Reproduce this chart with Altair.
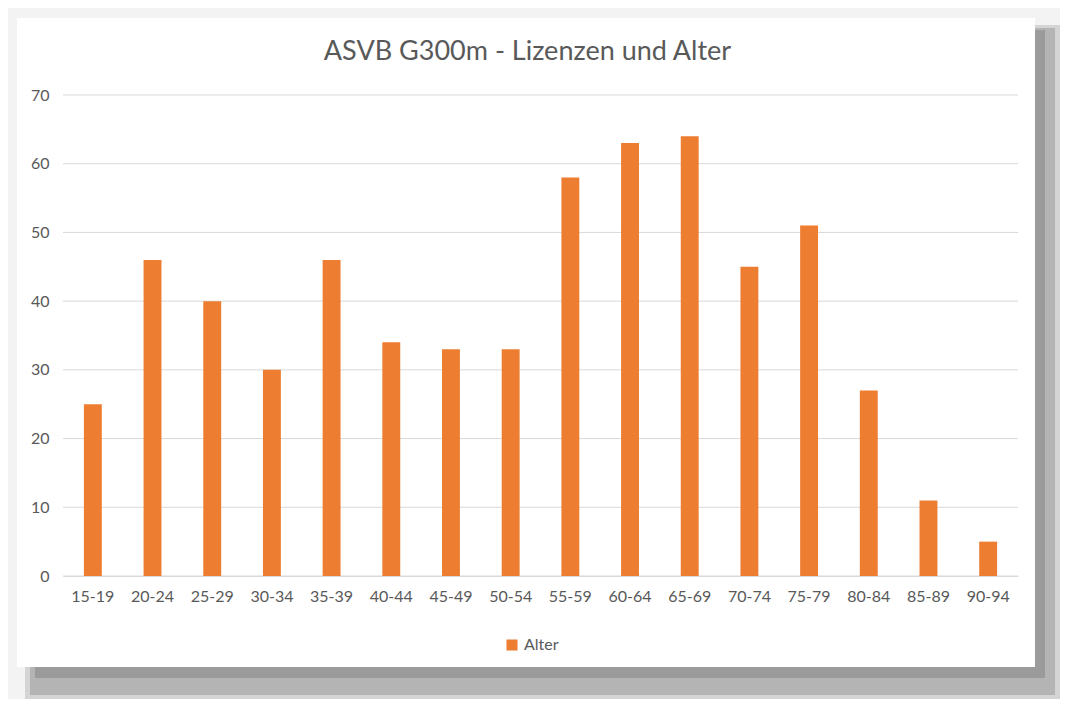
import altair as alt
import pandas as pd

categories = ["15-19", "20-24", "25-29", "30-34", "35-39", "40-44", "45-49", "50-54",
              "55-59", "60-64", "65-69", "70-74", "75-79", "80-84", "85-89", "90-94"]
values = [25, 46, 40, 30, 46, 34, 33, 33, 58, 63, 64, 45, 51, 27, 11, 5]
series = "Alter"
title = "ASVB G300m - Lizenzen und Alter"
y_ticks = [0, 10, 20, 30, 40, 50, 60, 70]

df = pd.DataFrame({"cat": categories, "val": values, "series": [series] * len(values)})
grid_df = pd.DataFrame({"tick": y_ticks})

FONT = "Lato"
TXT = "#595959"
W, H = 955, 481

one = pd.DataFrame({"k": [0]})

def deco(x1, x2, y1, y2, color):
    return alt.Chart(one).mark_rect(color=color).encode(
        x=alt.value(x1), x2=alt.value(x2), y=alt.value(y1), y2=alt.value(y2)
    )

shadow = (
    deco(-38, 997, -70, 604, "#d4d4d4")
    + deco(-33, 992, -67, 600, "#b4b4b4")
    + deco(-28, 982, -65, 583, "#9b9b9b")
    + deco(-46, 972, -77, 572, "#ffffff")
)

yscale = alt.Scale(domain=[0, 70])

grid = alt.Chart(grid_df).mark_rule(color="#d9d9d9", strokeWidth=1).encode(
    y=alt.Y("tick:Q", scale=yscale, title=None,
            axis=alt.Axis(values=y_ticks, ticks=False, domain=False, grid=False, zindex=1,
                          labelPadding=14, labelFontSize=16, labelColor=TXT, labelFont=FONT))
)

bars = alt.Chart(df).mark_bar().encode(
    x=alt.X("cat:N", sort=categories, title=None,
            scale=alt.Scale(paddingInner=0.7, paddingOuter=0.35),
            axis=alt.Axis(labelAngle=0, ticks=False, domain=True, domainColor="#d9d9d9",
                          labelPadding=12, labelFontSize=16, labelColor=TXT, labelFont=FONT,
                          grid=False, zindex=1)),
    y=alt.Y("val:Q", title=None, scale=yscale),
    color=alt.Color("series:N", scale=alt.Scale(range=["#ED7D31"]),
                    legend=alt.Legend(title=None, orient="none", legendX=441, legendY=542,
                                      symbolType="square", symbolSize=121, symbolStrokeWidth=0,
                                      labelFontSize=16, labelColor=TXT, labelFont=FONT,
                                      padding=0, labelOffset=4, zindex=1)),
)

chart = alt.layer(shadow, grid, bars).properties(
    width=W, height=H,
    autosize=alt.AutoSizeParams(type="none"),
    padding={"left": 55, "top": 87, "right": 42, "bottom": 123},
    background="#f3f3f3",
    title=alt.TitleParams(title, fontSize=27, font=FONT, color=TXT, fontWeight="normal",
                          anchor="middle", dx=-13, dy=70, offset=22, zindex=1),
).configure_view(stroke=None)

chart.save("out.html", embed_options={"renderer": "svg", "actions": False})
